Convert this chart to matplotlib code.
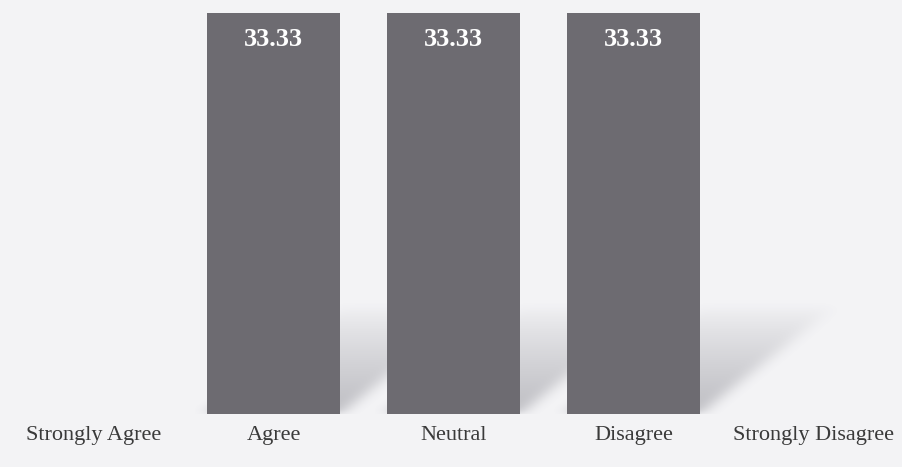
import numpy as np
import matplotlib
matplotlib.use('Agg')
import matplotlib.pyplot as plt

# Response shares (%) per answer option
categories = ['Strongly Agree', 'Agree', 'Neutral', 'Disagree', 'Strongly Disagree']
percent = [0, 33.33, 33.33, 33.33, 0]
value_labels = ['', '33.33', '33.33', '33.33', '']

BAR_COLOR = '#6d6b71'
BG_COLOR = '#f3f3f5'
BAR_WIDTH = 0.74
XLIM = (-0.52, 4.49)
YLIM = (0, 34.3)


def box_blur(a, r, axis):
    # simple moving average along one axis
    k = np.ones(2 * r + 1) / (2 * r + 1)
    return np.apply_along_axis(lambda v: np.convolve(v, k, mode='same'), axis, a)


fig = plt.figure(figsize=(9.02, 4.67), dpi=100, facecolor=BG_COLOR)
ax = fig.add_axes([0, 0.1135, 1, 0.884])
ax.set_facecolor(BG_COLOR)

x = np.arange(len(categories))

# soft floor shadow cast up and to the right of each bar
shadow_dx, shadow_dy = 0.75, 9.0
gx = np.linspace(XLIM[0], XLIM[1], 900)
gy = np.linspace(0, 12, 150)
GX, GY = np.meshgrid(gx, gy)
shade = np.zeros_like(GX)
for xi, h in zip(x, percent):
    if h <= 0:
        continue
    left, right = xi - BAR_WIDTH / 2, xi + BAR_WIDTH / 2
    u = GX - GY * shadow_dx / shadow_dy
    inside = (GY <= shadow_dy) & (u >= left) & (u <= right)
    shade = np.maximum(shade, np.where(inside, 0.42 * (1 - GY / shadow_dy) ** 0.8, 0))
for _ in range(2):
    shade = box_blur(shade, 9, 1)
    shade = box_blur(shade, 4, 0)
rgba = np.zeros(shade.shape + (4,))
rgba[..., :3] = np.array([0.45, 0.45, 0.49])
rgba[..., 3] = shade
ax.imshow(rgba, extent=(gx[0], gx[-1], 0, 12), origin='lower',
          aspect='auto', interpolation='bilinear', zorder=1)

bars = ax.bar(x, percent, width=BAR_WIDTH, color=BAR_COLOR, zorder=2)

for rect, lab in zip(bars, value_labels):
    if lab:
        ax.text(rect.get_x() + rect.get_width() / 2, rect.get_height() - 2.2, lab,
                ha='center', va='center', color='white', fontsize=19,
                fontweight='bold', family='Liberation Serif', zorder=3)

ax.set_xlim(*XLIM)
ax.set_ylim(*YLIM)
ax.set_xticks(x)
ax.set_xticklabels(categories, family='Liberation Serif', fontsize=16, color='#3a3a3a')
ax.tick_params(axis='x', length=0, pad=9)
ax.set_yticks([])
for s in ax.spines.values():
    s.set_visible(False)

fig.savefig('out.png', dpi=100, facecolor=BG_COLOR)
